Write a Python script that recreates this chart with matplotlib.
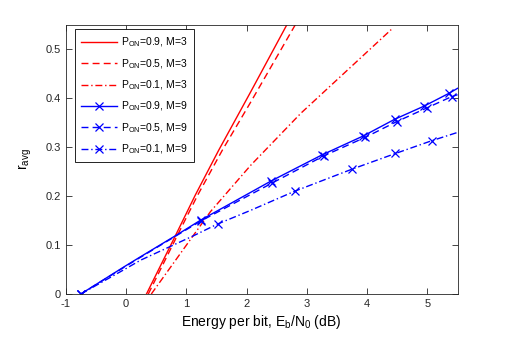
import matplotlib
matplotlib.use("Agg")
import matplotlib.pyplot as plt
from matplotlib.ticker import FormatStrFormatter

plt.rcParams['font.family'] = ['Liberation Sans', 'DejaVu Sans']
plt.rcParams['mathtext.default'] = 'regular'
plt.rcParams['axes.unicode_minus'] = False

# M=3 curves (red)
x_09_m3 = [0.34, 0.82, 1.15, 1.54, 2.07, 2.67]
y_09_m3 = [0.0, 0.119, 0.202, 0.294, 0.413, 0.55]
x_05_m3 = [0.37, 0.85, 1.19, 1.60, 2.07, 2.81]
y_05_m3 = [0.0, 0.119, 0.202, 0.294, 0.392, 0.55]
x_01_m3 = [0.42, 1.12, 1.40, 2.07, 2.90, 4.40]
y_01_m3 = [0.0, 0.12, 0.168, 0.263, 0.369, 0.54]

# M=9 curves (blue, with markers)
x_09_m9 = [-0.75, 0.0, 0.24, 0.82, 1.24, 2.41, 3.25, 3.94, 4.46, 4.95, 5.36, 5.5]
y_09_m9 = [0.0, 0.058, 0.076, 0.119, 0.151, 0.231, 0.284, 0.323, 0.357, 0.384, 0.410, 0.42]
x_05_m9 = [-0.75, 0.0, 0.24, 0.82, 1.24, 2.43, 3.28, 3.97, 4.49, 4.99, 5.40, 5.5]
y_05_m9 = [0.0, 0.057, 0.075, 0.118, 0.149, 0.227, 0.282, 0.320, 0.352, 0.380, 0.403, 0.407]
x_01_m9 = [-0.75, 0.0, 0.24, 1.12, 1.52, 2.07, 2.80, 3.75, 4.47, 5.07, 5.5]
y_01_m9 = [0.0, 0.052, 0.069, 0.119, 0.143, 0.171, 0.210, 0.255, 0.287, 0.313, 0.33]
mk_a = [0, 4, 5, 6, 7, 8, 9, 10]
mk_b = [0, 4, 6, 7, 8, 9]

labels = ['P$_{ON}$=0.9, M=3', 'P$_{ON}$=0.5, M=3', 'P$_{ON}$=0.1, M=3',
          'P$_{ON}$=0.9, M=9', 'P$_{ON}$=0.5, M=9', 'P$_{ON}$=0.1, M=9']

fig = plt.figure(figsize=(5.05, 3.38), dpi=100)
ax = fig.add_axes([0.130, 0.130, 0.776, 0.797])

red = (1, 0, 0)
blue = (0, 0, 1)
lw = 1.0
ax.plot(x_09_m3, y_09_m3, '-', color=red, lw=lw, label=labels[0])
ax.plot(x_05_m3, y_05_m3, '--', color=red, lw=lw, label=labels[1], dashes=(5, 3))
ax.plot(x_01_m3, y_01_m3, '-.', color=red, lw=lw, label=labels[2], dashes=(5, 2, 1, 2))
ax.plot(x_09_m9, y_09_m9, '-', color=blue, lw=lw, marker='x', ms=5.5, mew=0.9,
        markevery=mk_a, label=labels[3])
ax.plot(x_05_m9, y_05_m9, '--', color=blue, lw=lw, marker='x', ms=5.5, mew=0.9,
        markevery=mk_a, label=labels[4], dashes=(5, 3))
ax.plot(x_01_m9, y_01_m9, '-.', color=blue, lw=lw, marker='x', ms=5.5, mew=0.9,
        markevery=mk_b, label=labels[5], dashes=(5, 2, 1, 2))

ax.set_xlim(-1, 5.5)
ax.set_ylim(0, 0.55)
ax.set_xticks([-1, 0, 1, 2, 3, 4, 5])
ax.set_yticks([0, 0.1, 0.2, 0.3, 0.4, 0.5])
ax.yaxis.set_major_formatter(FormatStrFormatter('%g'))
ax.tick_params(direction='in', top=True, right=True, length=4, width=0.6,
               labelsize=8, colors=(0.15, 0.15, 0.15))
for s in ax.spines.values():
    s.set_linewidth(0.6)
    s.set_color((0.15, 0.15, 0.15))

ax.set_xlabel('Energy per bit, E$_b$/N$_0$ (dB)', fontsize=10, labelpad=3)
ax.set_ylabel('r$_{avg}$', fontsize=10, labelpad=8)

leg = ax.legend(loc='upper left', bbox_to_anchor=(75 / 505, 1 - 29.3 / 338),
                bbox_transform=fig.transFigure, borderaxespad=0,
                fontsize=7.5, fancybox=False, edgecolor='black',
                framealpha=1, handlelength=3.4, handletextpad=0.4,
                labelspacing=0.75, borderpad=0.6)
leg.get_frame().set_linewidth(0.6)

fig.savefig('out.png', dpi=100)
